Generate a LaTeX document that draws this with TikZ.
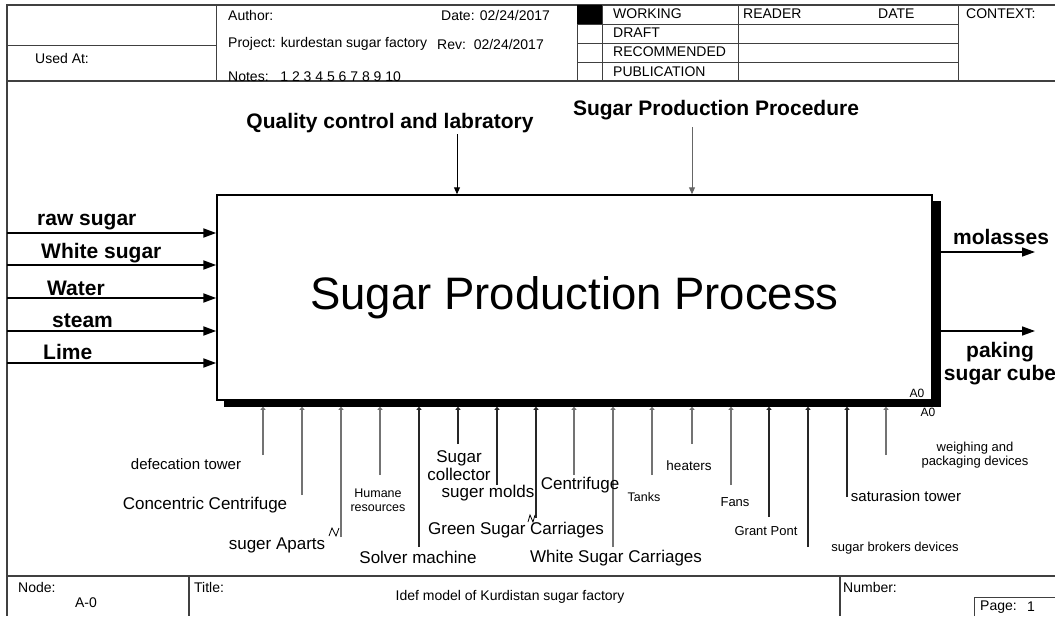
\documentclass[tikz,border=0pt]{standalone}
\usepackage{fontspec}
\setmainfont{Liberation Sans}
\usetikzlibrary{arrows.meta}

\newcommand{\fsz}[2]{\fontsize{#1}{#2}\selectfont}

\begin{document}
\begin{tikzpicture}[x=1pt, y=-1pt,
    every node/.style={inner sep=0pt},
    rule/.style={line width=1pt, black!75},
    hdr/.style={font=\fsz{14}{16}, anchor=west},
    flowlabel/.style={font=\fsz{21}{23}\bfseries},
    flowarrow/.style={line width=2pt, -{Triangle[length=13pt,width=9pt]}},
    ctrlarrow/.style={line width=1pt, -{Triangle[length=7pt,width=6pt]}},
    mechline/.style={line width=1.5pt, -{Triangle[length=3pt,width=5pt]}}]
    \useasboundingbox (0,0) rectangle (1055,616);

    % Frame
    \draw[rule, line width=1.5pt] (1055,5) -- (7,5) -- (7,616);
    \draw[rule, line width=1.5pt] (7,81) -- (1055,81);
    \draw[rule, line width=1.5pt] (7,576) -- (1055,576);

    % Header grid
    \draw[rule] (216,5) -- (216,81) (7,45) -- (216,45);
    \foreach \x in {577,602,738,958}
        \draw[rule] (\x,5) -- (\x,81);
    \foreach \y in {24,43,62}
        \draw[rule] (577,\y) -- (958,\y);
    \fill (577,5) rectangle (602,24);

    % Header text
    \node[hdr] (used) at (35,58) {Used At:};
    \node[hdr] (author) at (228,15) {Author:};
    \node[hdr] (date) at (441,15) {Date: 02/24/2017};
    \node[hdr] (project) at (228,44) {Project: kurdestan sugar factory};
    \node[hdr] (rev) at (437,44) {Rev:\ \ 02/24/2017};
    \node[hdr] (notes) at (228,77) {Notes:\ \ \ 1 2 3 4 5 6 7 8 9 10};
    \foreach \y/\st in {14/WORKING, 33/DRAFT, 52/RECOMMENDED, 72/PUBLICATION}
        \node[hdr] (\st) at (613,\y) {\st};
    \node[hdr] (reader) at (743,14) {READER};
    \node[hdr] (date-col) at (878,14) {DATE};
    \node[hdr] (context) at (966,14) {CONTEXT:};

    % Activity box with its shadow
    \node[draw, line width=1.5pt, minimum width=715pt, minimum height=205pt,
        font=\fsz{45.5}{50}] (proc) at (574.5,297.5) {Sugar Production Process};
    \fill ([yshift=-7pt]proc.north east) rectangle ([shift={(8pt,-6pt)}]proc.south east);
    \fill ([xshift=8pt]proc.south west) rectangle ([shift={(8pt,-6pt)}]proc.south east);
    \coordinate (shadow) at ([yshift=-6pt]proc.south);
    \node[font=\fsz{12}{14}] (box-no) at (917,393) {A0};
    \node[font=\fsz{12}{14}] (node-no) at (928,412) {A0};

    % Inputs
    \foreach \n/\y/\ly/\lx/\txt in {raw/233/222/37/raw sugar, white/265/253/41/White sugar,
        water/298/288/47/Water, steam/331/321/52/steam, lime/363/352/43/Lime} {
        \coordinate (\n) at (7,\y);
        \draw[flowarrow] (\n) -- (\n -| proc.west);
        \node[flowlabel, anchor=west] (\n-lbl) at (\lx,\ly) {\txt};
    }

    % Outputs
    \coordinate (molasses) at (1035,252);
    \coordinate (cube) at (1035,331);
    \draw[flowarrow, line width=1.5pt] (molasses -| proc.east) ++(8,0) -- (molasses);
    \draw[flowarrow, line width=1.5pt] (cube -| proc.east) ++(8,0) -- (cube);
    \node[flowlabel, anchor=west] (molasses-lbl) at (953,237) {molasses};
    \node[flowlabel, align=center] (cube-lbl) at (1000,364) {paking\\sugar cube};

    % Controls
    \node[flowlabel] (quality) at (390,123) {Quality control and labratory};
    \coordinate (quality-in) at (457,134);
    \draw[ctrlarrow] (quality-in) -- (quality-in |- proc.north);
    \node[flowlabel] (procedure) at (716,110) {Sugar Production Procedure};
    \coordinate (procedure-in) at (692,127);
    \draw[ctrlarrow, black!60] (procedure-in) -- (procedure-in |- proc.north);

    % Mechanisms
    \foreach \i/\x/\y/\c in {1/263/455/black!55, 2/302/495/black!55, 3/341/537/black!55,
        4/380/475/black!55, 5/419/547/black!85, 6/458/444/black!85, 7/497/485/black!85,
        8/536/518/black!85, 9/574/475/black!55, 10/613/547/black!55, 11/652/475/black!55,
        12/692/444/black!55, 13/731/485/black!55, 14/769/517/black!85, 15/808/547/black!85,
        16/847/497/black!85, 17/886/455/black!55} {
        \coordinate (m\i) at (\x,\y);
        \draw[mechline, draw=\c] (m\i) -- (m\i |- shadow);
    }
    \draw[line width=0.8pt] (329,536) -- (332,528) -- (336,536) -- (339,528);
    \draw[line width=0.8pt] (528,522) -- (530,515) -- (533,522) -- (535,515);

    \node[font=\fsz{15}{17}] (defecation) at (186,464) {defecation tower};
    \node[font=\fsz{17}{18}] (concentric) at (205,505) {Concentric Centrifuge};
    \node[font=\fsz{17}{18}] (aparts) at (277,545) {suger Aparts};
    \node[font=\fsz{12.5}{14}, align=center] (humane) at (378,500) {Humane\\resources};
    \node[font=\fsz{17}{18}] (solver) at (418,557) {Solver machine};
    \node[font=\fsz{17}{18}, align=center] (collector) at (459,466) {Sugar\\collector};
    \node[font=\fsz{17}{18}] (molds) at (488,493) {suger molds};
    \node[font=\fsz{17}{18}] (green) at (516,530) {Green Sugar Carriages};
    \node[font=\fsz{17}{18}] (centrifuge) at (580,485) {Centrifuge};
    \node[font=\fsz{17}{18}] (white) at (616,558) {White Sugar Carriages};
    \node[font=\fsz{12.5}{14}] (tanks) at (644,497) {Tanks};
    \node[font=\fsz{13.5}{15}] (heaters) at (689,466) {heaters};
    \node[font=\fsz{13}{15}] (fans) at (735,502) {Fans};
    \node[font=\fsz{13}{15}] (grant) at (766,531) {Grant Pont};
    \node[font=\fsz{13}{15}] (brokers) at (895,548) {sugar brokers devices};
    \node[font=\fsz{15}{17}] (saturasion) at (906,496) {saturasion tower};
    \node[font=\fsz{13}{14}, align=center] (weighing) at (975,455) {weighing and\\packaging devices};

    % Footer
    \draw[rule, line width=1.5pt] (189,576) -- (189,616) (840,576) -- (840,616);
    \draw[rule] (974,616) -- (974,597) -- (1055,597);
    \node[hdr] (node-lbl) at (18,587) {Node:};
    \node[font=\fsz{14}{16}] (node-id) at (86,603) {A-0};
    \node[hdr] (title-lbl) at (194,587) {Title:};
    \node[font=\fsz{14}{16}] (title) at (510,597) {Idef model of Kurdistan sugar factory};
    \node[hdr] (number-lbl) at (843,587) {Number:};
    \node[hdr] (page-lbl) at (980,607) {Page:};
    \node[font=\fsz{14}{16}] (page-no) at (1031,607) {1};
\end{tikzpicture}
\end{document}
